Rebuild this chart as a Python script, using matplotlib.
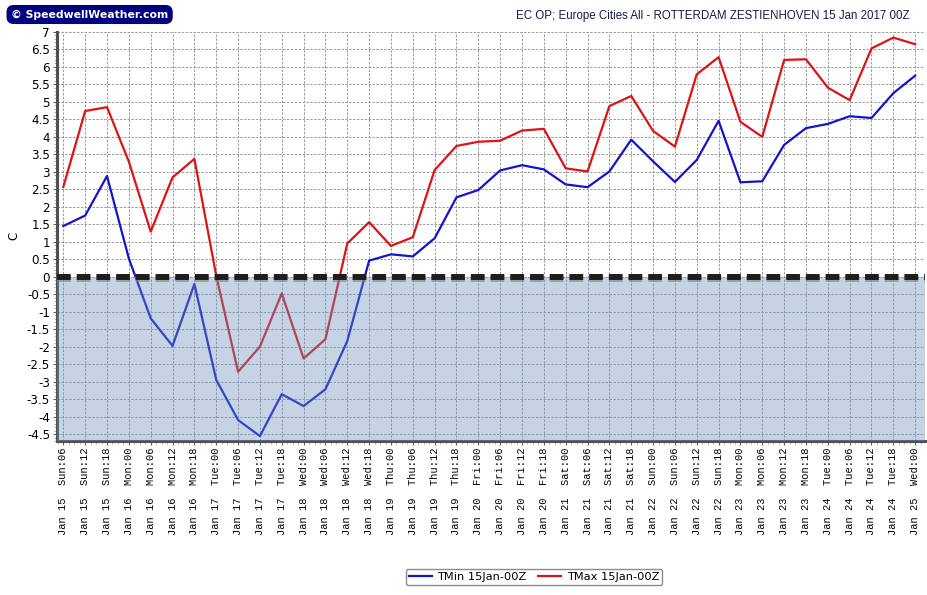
import numpy as np
import matplotlib.pyplot as plt

# Forecast steps (6-hourly) and the two temperature series in C
tick_labels = [
    "Jan 15  Sun:06", "Jan 15  Sun:12", "Jan 15  Sun:18",
    "Jan 16  Mon:00", "Jan 16  Mon:06", "Jan 16  Mon:12", "Jan 16  Mon:18",
    "Jan 17  Tue:00", "Jan 17  Tue:06", "Jan 17  Tue:12", "Jan 17  Tue:18",
    "Jan 18  Wed:00", "Jan 18  Wed:06", "Jan 18  Wed:12", "Jan 18  Wed:18",
    "Jan 19  Thu:00", "Jan 19  Thu:06", "Jan 19  Thu:12", "Jan 19  Thu:18",
    "Jan 20  Fri:00", "Jan 20  Fri:06", "Jan 20  Fri:12", "Jan 20  Fri:18",
    "Jan 21  Sat:00", "Jan 21  Sat:06", "Jan 21  Sat:12", "Jan 21  Sat:18",
    "Jan 22  Sun:00", "Jan 22  Sun:06", "Jan 22  Sun:12", "Jan 22  Sun:18",
    "Jan 23  Mon:00", "Jan 23  Mon:06", "Jan 23  Mon:12", "Jan 23  Mon:18",
    "Jan 24  Tue:00", "Jan 24  Tue:06", "Jan 24  Tue:12", "Jan 24  Tue:18",
    "Jan 25  Wed:00",
]

tmin = [1.45, 1.75, 2.88, 0.52, -1.19, -1.98, -0.21, -2.95, -4.1, -4.56,
        -3.36, -3.7, -3.22, -1.84, 0.46, 0.64, 0.58, 1.1, 2.27, 2.48,
        3.04, 3.19, 3.07, 2.64, 2.56, 3.01, 3.92, 3.3, 2.71, 3.34,
        4.46, 2.7, 2.73, 3.77, 4.25, 4.37, 4.59, 4.54, 5.25, 5.75]

tmax = [2.57, 4.74, 4.85, 3.29, 1.29, 2.84, 3.37, 0.03, -2.72, -2.0,
        -0.48, -2.34, -1.79, 0.95, 1.56, 0.88, 1.13, 3.05, 3.74, 3.86,
        3.89, 4.18, 4.23, 3.1, 3.01, 4.88, 5.17, 4.17, 3.72, 5.79,
        6.28, 4.43, 4.0, 6.2, 6.22, 5.41, 5.05, 6.53, 6.84, 6.65]

series_labels = ["TMin 15Jan-00Z", "TMax 15Jan-00Z"]
title = "EC OP; Europe Cities All - ROTTERDAM ZESTIENHOVEN 15 Jan 2017 00Z"

x = np.arange(len(tick_labels))
y_bottom, y_top = -4.7, 7.0

fig = plt.figure(figsize=(9.27, 5.95), dpi=100)
ax = fig.add_axes([57 / 927, 1 - 441 / 595, 868 / 927, 409 / 595])

ax.plot(x, tmin, color="#1414c8", lw=1.6, label=series_labels[0], zorder=2)
ax.plot(x, tmax, color="#dc1414", lw=1.6, label=series_labels[1], zorder=2)

# shaded sub-zero band sits over the lines (tints them)
ax.axhspan(y_bottom, 0, color=(110 / 255, 145 / 255, 192 / 255), alpha=0.4,
           lw=0, zorder=3)

# freezing line with a soft shadow
ax.axhline(-0.07, color="#808080", lw=4.3, alpha=0.6, ls=(0, (2.3, 1.0)), zorder=4)
ax.axhline(0, color="#1e1e1e", lw=4.3, ls=(0, (2.3, 1.0)), zorder=5)

ax.set_xlim(-0.29, 39.45)
ax.set_ylim(y_bottom, y_top)
ax.set_xticks(x)
ax.set_xticklabels(tick_labels, rotation=90, family="Liberation Mono", fontsize=7.5)
ax.set_yticks(np.arange(-4.5, 7.01, 0.5))
ax.set_yticklabels([f"{v:g}" for v in np.arange(-4.5, 7.01, 0.5)], fontsize=8.6)
ax.set_xticks(np.arange(-0.25, 39.45, 0.25), minor=True)
ax.set_yticks(np.arange(-4.7, 7.0, 0.1), minor=True)

ax.grid(True, which="major", color="#9a9a9a", ls=(0, (2.5, 1.5)), lw=0.7)
ax.set_axisbelow(True)
ax.tick_params(which="major", length=3, width=0.8, color="#606060", pad=2)
ax.tick_params(which="minor", length=2, width=0.5, color="#909090")

for side in ["top", "right"]:
    ax.spines[side].set_visible(False)
for side in ["left", "bottom"]:
    ax.spines[side].set_linewidth(2.2)
    ax.spines[side].set_color("#505050")

fig.text(14 / 927, 1 - 236 / 595, "C", rotation=90, ha="center", va="center",
         fontsize=8.5)

fig.text(910 / 927, 1 - 16 / 595, title, ha="right", va="center",
         fontsize=8.3, color="#1a1a4a", family="Liberation Sans")

fig.text(11 / 927, 1 - 14.5 / 595, "© SpeedwellWeather.com", ha="left", va="center",
         fontsize=7.8, fontweight="bold", color="white",
         bbox=dict(boxstyle="round,pad=0.35,rounding_size=0.6", fc="#000080", ec="#000080"))

fig.legend(loc="center", bbox_to_anchor=(534 / 927, 1 - 577 / 595), ncol=2,
           fontsize=8.2, frameon=True, fancybox=True, edgecolor="#707070",
           handlelength=2.0, columnspacing=1.0, borderpad=0.3, handletextpad=0.5)

fig.savefig("out.png", dpi=100)
